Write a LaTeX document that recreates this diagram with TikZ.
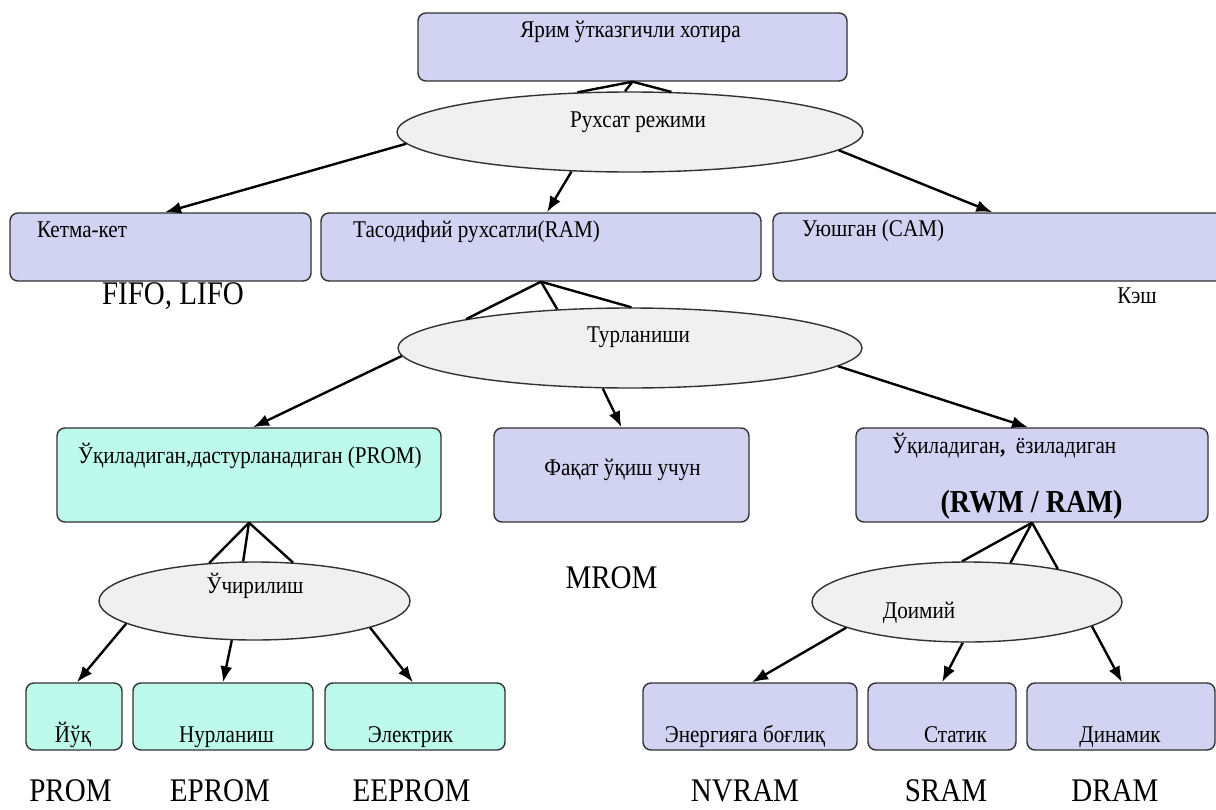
\documentclass[tikz,border=0pt]{standalone}
\usepackage{fontspec}
\setmainfont{Liberation Serif}[FakeStretch=0.88]
\usetikzlibrary{shapes.geometric,arrows.meta,calc}
\definecolor{lav}{RGB}{210,210,242}
\definecolor{cyb}{RGB}{190,250,235}
\definecolor{ellf}{RGB}{240,240,240}
\definecolor{edge}{RGB}{50,50,50}
\tikzset{
  box/.style={draw=edge, line width=1.4pt, rounded corners=8pt, inner sep=0pt, minimum height=68pt},
  lavbox/.style={box, fill=lav},
  cybox/.style={box, fill=cyb},
  ell/.style={ellipse, draw=edge, line width=1.4pt, fill=ellf, inner sep=0pt},
  conn/.style={line width=2.4pt, black},
  arr/.style={conn, -{Latex[length=16pt,width=12pt]}},
  txt/.style={inner sep=0pt, font=\fontsize{24}{28}\selectfont},
  big/.style={inner sep=0pt, font=\fontsize{33}{38}\selectfont},
}
\begin{document}
\begin{tikzpicture}[x=1pt,y=-1pt]
\clip (0,0) rectangle (1216,809);
\fill[white] (0,0) rectangle (1216,809);
% boxes
\node[lavbox, minimum width=429pt] (top) at (632.5,47) {};
\node[lavbox, minimum width=301pt] (ketma) at (160.5,247) {};
\node[lavbox, minimum width=440pt] (ram) at (541,247) {};
\node[lavbox, minimum width=453pt] (cam) at (999.5,247) {};
\node[cybox, minimum width=384pt, minimum height=94pt] (prom) at (249,475) {};
\node[lavbox, minimum width=255pt, minimum height=94pt] (faqat) at (621.5,475) {};
\node[lavbox, minimum width=352pt, minimum height=94pt] (rwm) at (1032,475) {};
\node[cybox, minimum width=96pt, minimum height=67pt] (yuq) at (74,716.5) {};
\node[cybox, minimum width=180pt, minimum height=67pt] (nur) at (223,716.5) {};
\node[cybox, minimum width=180pt, minimum height=67pt] (el) at (415,716.5) {};
\node[lavbox, minimum width=214pt, minimum height=67pt] (en) at (750,716.5) {};
\node[lavbox, minimum width=148pt, minimum height=67pt] (st) at (942,716.5) {};
\node[lavbox, minimum width=188pt, minimum height=67pt] (din) at (1121,716.5) {};
% ellipses
\node[ell, minimum width=466pt, minimum height=80pt] (rux) at (630,132) {};
\node[ell, minimum width=464pt, minimum height=80pt] (tur) at (630,348) {};
\node[ell, minimum width=311pt, minimum height=78pt] (uch) at (254.5,601) {};
\node[ell, minimum width=310pt, minimum height=80pt] (doi) at (967,602) {};
% crow's feet
\draw[conn] (top.south) -- (rux.143) (top.south) -- (rux.97) (top.south) -- (rux.44);
\draw[conn] (ram.south) -- (tur.170) (ram.south) -- (tur.152) (ram.south) -- (tur.88);
\draw[conn] (prom.south) -- (uch.140) (prom.south) -- (uch.106) (prom.south) -- (uch.45);
\draw[conn] (rwm.south) -- (doi.97) (rwm.south) -- (doi.42) (rwm.south) -- (doi.20);
% arrows
\draw[arr] (rux.183) -- ($(ketma.north)+(4.5,0)$);
\draw[arr] (rux.214) -- ($(ram.north)+(6,0)$);
\draw[arr] (rux.355) -- ($(cam.north west)+(220,0)$);
\draw[arr] (tur.182) -- ($(prom.north)+(4,0)$);
\draw[arr] (tur.236) -- (faqat.north);
\draw[arr] (tur.355) -- ($(rwm.north)+(-4,0)$);
\draw[arr] (uch.190) -- ($(yuq.north)+(3,0)$);
\draw[arr] (uch.240) -- (nur.north);
\draw[arr] (uch.347) -- ($(el.north)+(-2,0)$);
\draw[arr] (doi.192) -- ($(en.north)+(2,0)$);
\draw[arr] (doi.264) -- (st.north);
\draw[arr] (doi.349) -- ($(din.north)+(1,0)$);
% texts
\node[txt, anchor=base] (ttop) at (630.5,37) {Ярим ўтказгичли хотира};
\node[txt, anchor=base] (trux) at (638,127) {Рухсат режими};
\node[txt, anchor=base west] (tketma) at (37,237) {Кетма-кет};
\node[txt, anchor=base west] (tram) at (353,237) {Тасодифий рухсатли(RAM)};
\node[txt, anchor=base west] (tcam) at (802,236) {Уюшган (CAM)};
\node[big, anchor=base] (fifo) at (173,304) {FIFO, LIFO};
\node[txt, anchor=base] (kesh) at (1137,303) {Кэш};
\node[txt, anchor=base] (ttur) at (638.5,342) {Турланиши};
\node[txt, anchor=base] (tprom) at (250,463) {Ўқиладиган,дастурланадиган (PROM)};
\node[txt, anchor=base] (tfaqat) at (622.5,475) {Фақат ўқиш учун};
\node[txt, anchor=base west] (trwm1) at (892,453) {Ўқиладиган\textbf{,}\ \ ёзиладиган};
\node[inner sep=0pt, anchor=base, font=\fontsize{32}{36}\selectfont\bfseries] (trwm2) at (1031.5,512) {(RWM / RAM)};
\node[big, anchor=base] (mrom) at (611.5,588) {MROM};
\node[txt, anchor=base] (tuch) at (255,593) {Ўчирилиш};
\node[txt, anchor=base] (tdoi) at (919,618) {Доимий};
\node[txt, anchor=base] (tyuq) at (73,742) {Йўқ};
\node[txt, anchor=base] (tnur) at (226.5,742) {Нурланиш};
\node[txt, anchor=base] (tel) at (410.5,742) {Электрик};
\node[txt, anchor=base] (ten) at (745,742) {Энергияга боғлиқ};
\node[txt, anchor=base] (tst) at (955.5,742) {Статик};
\node[txt, anchor=base] (tdin) at (1120,742) {Динамик};
\node[big, anchor=base] (lprom) at (70.5,801) {PROM};
\node[big, anchor=base] (leprom) at (220,801) {EPROM};
\node[big, anchor=base] (leeprom) at (411.5,801) {EEPROM};
\node[big, anchor=base] (lnv) at (745,801) {NVRAM};
\node[big, anchor=base] (lsr) at (946,801) {SRAM};
\node[big, anchor=base] (ldr) at (1115,801) {DRAM};
\end{tikzpicture}
\end{document}
